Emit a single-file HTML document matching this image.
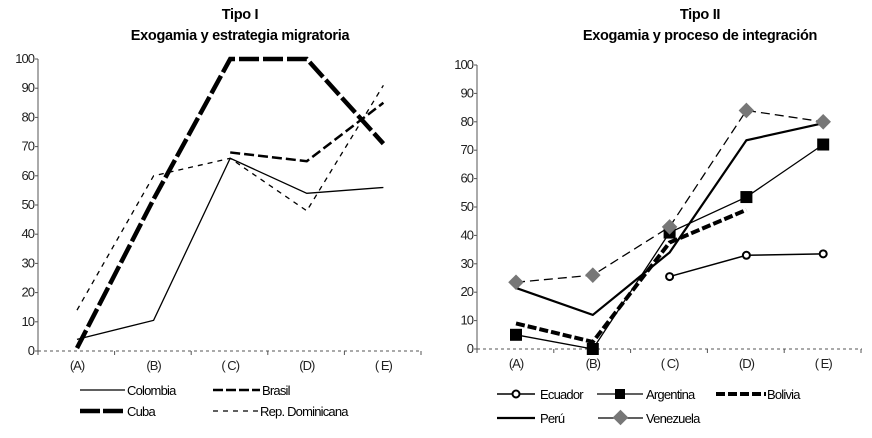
<!DOCTYPE html>
<html><head><meta charset="utf-8"><style>
body{margin:0;background:#fff}
svg{display:block;font-family:"Liberation Sans Narrow","Liberation Sans",sans-serif}
.t{font-weight:bold;font-size:14.5px;text-anchor:middle;letter-spacing:-0.3px}
.tk{font-size:13px;fill:#222;letter-spacing:-1px}
.lg{font-size:13px;letter-spacing:-0.8px}
</style></head><body>
<svg id="s" width="872" height="438" viewBox="0 0 872 438">
<text class="t" x="240" y="19">Tipo I</text>
<text class="t" x="240" y="40">Exogamia y estrategia migratoria</text>
<text class="t" x="700" y="19">Tipo II</text>
<text class="t" x="700" y="40">Exogamia y proceso de integración</text>
<g id="L"></g><g id="R"></g>
<g>
<line x1="80" x2="125" y1="390" y2="390" stroke="#000" stroke-width="1.3"/><text class="lg" x="127" y="395">Colombia</text>
<line x1="213" x2="260" y1="390" y2="390" stroke="#000" stroke-width="2.5" stroke-dasharray="10,3"/><text class="lg" x="262" y="395">Brasil</text>
<line x1="80" x2="125" y1="411" y2="411" stroke="#000" stroke-width="4.5" stroke-dasharray="20,3"/><text class="lg" x="127" y="416">Cuba</text>
<line x1="213" x2="258" y1="411" y2="411" stroke="#000" stroke-width="1.3" stroke-dasharray="5,5"/><text class="lg" x="260" y="416">Rep. Dominicana</text>
</g>
<g>
<line x1="497" x2="535" y1="394" y2="394" stroke="#000" stroke-width="1.5"/><circle cx="516" cy="394" r="3.5" fill="#fff" stroke="#000" stroke-width="2"/><text class="lg" x="540" y="399">Ecuador</text>
<line x1="597" x2="643" y1="394" y2="394" stroke="#000" stroke-width="1.3"/><rect x="615" y="389" width="10" height="10"/><text class="lg" x="646" y="399">Argentina</text>
<line x1="716" x2="766" y1="394" y2="394" stroke="#000" stroke-width="4" stroke-dasharray="9,3"/><text class="lg" x="767" y="399">Bolivia</text>
<line x1="497" x2="535" y1="418" y2="418" stroke="#000" stroke-width="2.2"/><text class="lg" x="540" y="423">Perú</text>
<line x1="598" x2="643" y1="418" y2="418" stroke="#000" stroke-width="1.3"/><rect x="615" y="412" width="11" height="11" fill="#777" transform="rotate(45 620.5 417.5)"/><text class="lg" x="646" y="423">Venezuela</text>
</g>
</svg>
<script>
const cats=["(A)","(B)","( C)","(D)","( E)"];
const yTicks=[0,10,20,30,40,50,60,70,80,90,100];
const colombia=[4,10.5,66,54,56];
const brasil=[null,null,68,65,85];
const cuba=[1,52,100,100,71];
const repDom=[14,60,66,48,91];
const ecuador=[null,null,25.5,33,33.5];
const argentina=[5,0,41,53.5,72];
const bolivia=[9,2.5,37.5,49,null];
const peru=[21.5,12,34,73.5,79.5];
const venezuela=[23.5,26,43,84,80];
const NS="http://www.w3.org/2000/svg";
function mk(p,t,a){const e=document.createElementNS(NS,t);for(const k in a)e.setAttribute(k,a[k]);p.appendChild(e);return e;}
function axes(g,ax,right,y0,y100,x0,dx,pre){
 const y=v=>y0-(y0-y100)*v/100, x=i=>x0+dx*i;
 const a=mk(g,'line',{x1:ax,x2:ax,y1:y100,y2:y0,stroke:'#555'});
 
 const b=mk(g,'line',{x1:ax,x2:right,y1:y0,y2:y0,stroke:'#555','stroke-dasharray':'3,3'});
 
 yTicks.forEach(v=>{mk(g,'line',{x1:ax-3,x2:ax,y1:y(v),y2:y(v),stroke:'#555'});
  const t=mk(g,'text',{x:ax-4,y:y(v)+4,'text-anchor':'end',class:'tk'});t.textContent=v;
  });
 for(let i=0;i<=5;i++)mk(g,'line',{x1:ax+dx*i,x2:ax+dx*i,y1:y0,y2:y0+4,stroke:'#555'});
 cats.forEach((c,i)=>{const t=mk(g,'text',{x:x(i),y:y0+19,'text-anchor':'middle',class:'tk'});t.textContent=c;
  });
 return {x,y};
}
function series(g,s,data,name,st){
 const pts=[];data.forEach((v,i)=>{if(v!==null)pts.push(s.x(i)+','+s.y(v));});
 const p=mk(g,'polyline',Object.assign({points:pts.join(' '),fill:'none',stroke:'#000'},st));
 
}
function markers(g,s,data,name,kind){
 data.forEach((v,i)=>{if(v===null)return;const cx=s.x(i),cy=s.y(v);let m;
  if(kind==='circle')m=mk(g,'circle',{cx,cy,r:3.5,fill:'#fff',stroke:'#000','stroke-width':2});
  else if(kind==='square')m=mk(g,'rect',{x:cx-6,y:cy-6,width:12,height:12,fill:'#000'});
  else m=mk(g,'rect',{x:cx-5.5,y:cy-5.5,width:11,height:11,fill:'#777',transform:`rotate(45 ${cx} ${cy})`});
  });
}
const L=document.getElementById('L'),R=document.getElementById('R');
const sl=axes(L,38,420,351,59,77,76.6,'left');
series(L,sl,colombia,'colombia',{'stroke-width':1.3});
series(L,sl,repDom,'rep-dominicana',{'stroke-width':1.3,'stroke-dasharray':'5,5'});
series(L,sl,brasil,'brasil',{'stroke-width':2.5,'stroke-dasharray':'10,4'});
series(L,sl,cuba,'cuba',{'stroke-width':4.5,'stroke-dasharray':'20,4'});
const sr=axes(R,477,862,349,65,516,76.8,'right');
series(R,sr,peru,'peru',{'stroke-width':2.2});
series(R,sr,venezuela,'venezuela',{'stroke-width':1.3,'stroke-dasharray':'9,5'});
series(R,sr,argentina,'argentina',{'stroke-width':1.3});
series(R,sr,ecuador,'ecuador',{'stroke-width':1.5});
series(R,sr,bolivia,'bolivia',{'stroke-width':4,'stroke-dasharray':'9,3'});
markers(R,sr,ecuador,'ecuador','circle');
markers(R,sr,argentina,'argentina','square');
markers(R,sr,venezuela,'venezuela','diamond');
</script>
</body></html>
